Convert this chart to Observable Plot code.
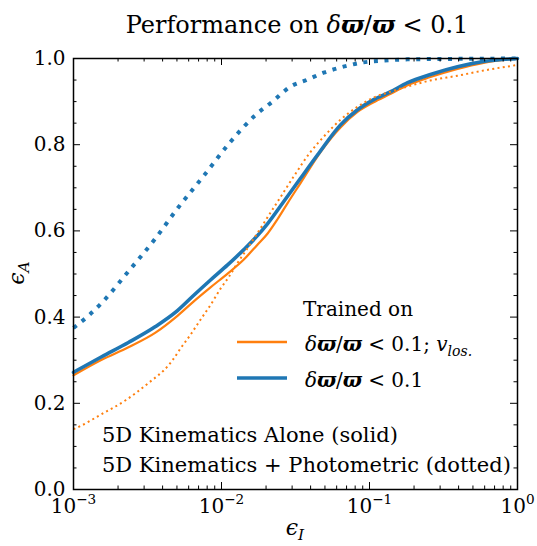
<!DOCTYPE html>
<html><head><meta charset="utf-8">
<script src="https://cdn.jsdelivr.net/npm/d3@7"></script>
<script src="https://cdn.jsdelivr.net/npm/@observablehq/plot@0.6"></script>
<style>
html,body{margin:0;padding:0;background:#fff}
#chart svg, #chart svg text, #chart svg tspan { font-family: "DejaVu Serif", "Times New Roman", "Liberation Serif", Times, serif !important; }
</style>
</head><body><div id="chart"></div>
<script>
// ---- data ----
const blueSolidX = [0.001, 0.00155, 0.00235, 0.00358, 0.00504, 0.00647, 0.00843, 0.011, 0.0141, 0.0175, 0.0205, 0.0262, 0.0342, 0.0445, 0.0637, 0.083, 0.106, 0.139, 0.181, 0.258, 0.393, 0.589, 1];
const blueSolidY = [0.272, 0.308, 0.341, 0.378, 0.415, 0.450, 0.486, 0.521, 0.556, 0.589, 0.617, 0.667, 0.722, 0.776, 0.846, 0.881, 0.904, 0.923, 0.944, 0.963, 0.981, 0.993, 1.0];

const orangeSolidX = [0.001, 0.00155, 0.00235, 0.00358, 0.00504, 0.00647, 0.00843, 0.011, 0.0141, 0.0175, 0.0205, 0.0239, 0.0279, 0.0342, 0.0467, 0.0637, 0.083, 0.106, 0.139, 0.181, 0.258, 0.393, 0.589, 1];
const orangeSolidY = [0.265, 0.301, 0.330, 0.364, 0.403, 0.436, 0.469, 0.501, 0.533, 0.568, 0.594, 0.627, 0.664, 0.711, 0.783, 0.840, 0.876, 0.898, 0.918, 0.938, 0.957, 0.976, 0.990, 1.0];

const orangeDotX = [0.001, 0.00108, 0.00155, 0.00225, 0.00321, 0.00438, 0.00467, 0.00528, 0.00617, 0.00721, 0.00843, 0.00985, 0.0112, 0.0128, 0.015, 0.0175, 0.0205, 0.025, 0.0306, 0.0399, 0.0489, 0.0637, 0.083, 0.106, 0.139, 0.181, 0.258, 0.393, 0.589, 1];
const orangeDotY = [0.140, 0.145, 0.175, 0.207, 0.247, 0.288, 0.300, 0.327, 0.359, 0.394, 0.428, 0.466, 0.493, 0.525, 0.560, 0.595, 0.632, 0.678, 0.725, 0.783, 0.818, 0.858, 0.888, 0.909, 0.923, 0.935, 0.949, 0.960, 0.972, 0.985];

const blueDotX = [0.001, 0.00126, 0.00157, 0.00235, 0.00353, 0.00512, 0.00756, 0.0112, 0.017, 0.0221, 0.0293, 0.0381, 0.0489, 0.0667, 0.0911, 0.124, 0.181, 0.353, 1];
const blueDotY = [0.375, 0.403, 0.435, 0.506, 0.580, 0.655, 0.727, 0.802, 0.869, 0.900, 0.935, 0.951, 0.967, 0.981, 0.991, 0.995, 0.998, 0.999, 1.0];

// ---- tick positions and labels ----
const majorX = [0.001, 0.01, 0.1, 1];
const minorX = [0.002,0.003,0.004,0.005,0.006,0.007,0.008,0.009,
                0.02,0.03,0.04,0.05,0.06,0.07,0.08,0.09,
                0.2,0.3,0.4,0.5,0.6,0.7,0.8,0.9];
const majorY = [0, 0.2, 0.4, 0.6, 0.8, 1.0];
const minorY = [0.05,0.1,0.15,0.25,0.3,0.35,0.45,0.5,0.55,0.65,0.7,0.75,0.85,0.9,0.95];

const titleText = "Performance on ";
const legendTitle = "Trained on";
const noteLines = ["5D Kinematics Alone (solid)", "5D Kinematics + Photometric (dotted)"];

const BLUE = "#1f77b4", ORANGE = "#ff7f0e";
const FONT = "DejaVu Serif, Times New Roman, Liberation Serif, serif";

const W = 537, H = 546, mL = 73, mR = 20, mT = 58, mB = 57;
const iW = W - mL - mR, iH = H - mT - mB;
const MAJ = 7, MIN = 3.5;

const rows = (xs, ys) => xs.map((x, i) => ({x, y: ys[i]}));

const plot = Plot.plot({
  width: W, height: H,
  marginLeft: mL, marginRight: mR, marginTop: mT, marginBottom: mB,
  style: {fontSize: "20px", color: "black", background: "white", overflow: "visible"},
  x: {type: "log", domain: [0.001, 1]},
  y: {domain: [0, 1]},
  marks: [
    Plot.line(rows(orangeSolidX, orangeSolidY), {x: "x", y: "y", stroke: ORANGE, strokeWidth: 2.2, curve: "monotone-x"}),
    Plot.line(rows(blueSolidX, blueSolidY), {x: "x", y: "y", stroke: BLUE, strokeWidth: 3.6, curve: "monotone-x"}),
    Plot.line(rows(orangeDotX, orangeDotY), {x: "x", y: "y", stroke: ORANGE, strokeWidth: 2, strokeDasharray: "2 3.3", strokeLinecap: "butt", curve: "monotone-x"}),
    Plot.line(rows(blueDotX, blueDotY), {x: "x", y: "y", stroke: BLUE, strokeWidth: 4, strokeDasharray: "4 6.6", strokeLinecap: "butt", curve: "monotone-x"}),
    Plot.ruleX(majorX, {x: d => d, insetTop: iH - MAJ, stroke: "black", strokeWidth: 1}),
    Plot.ruleX(minorX, {x: d => d, insetTop: iH - MIN, stroke: "black", strokeWidth: 1}),
    Plot.ruleX(majorX, {x: d => d, insetBottom: iH - MAJ, stroke: "black", strokeWidth: 1}),
    Plot.ruleX(minorX, {x: d => d, insetBottom: iH - MIN, stroke: "black", strokeWidth: 1}),
    Plot.ruleY(majorY, {y: d => d, insetRight: iW - MAJ, stroke: "black", strokeWidth: 1}),
    Plot.ruleY(minorY, {y: d => d, insetRight: iW - MIN, stroke: "black", strokeWidth: 1}),
    Plot.ruleY(majorY, {y: d => d, insetLeft: iW - MAJ, stroke: "black", strokeWidth: 1}),
    Plot.ruleY(minorY, {y: d => d, insetLeft: iW - MIN, stroke: "black", strokeWidth: 1}),
    Plot.axisY(majorY, {anchor: "left", tickSize: 0, tickPadding: 8, tickFormat: d => d.toFixed(1), label: null}),
    Plot.axisX(majorX, {anchor: "bottom", tickSize: 0, tickPadding: 9, tickFormat: d => "10^" + Math.round(Math.log10(d)), label: null}),
    Plot.frame({stroke: "black", strokeWidth: 1.5})
  ]
});

const svg = d3.select(plot);
svg.attr("font-family", FONT);

svg.selectAll('g[aria-label="x-axis tick label"] text').each(function() {
  const m = this.textContent.match(/^10\^(.+)$/);
  if (!m) return;
  const s = d3.select(this);
  s.text(null);
  s.append("tspan").text("10");
  s.append("tspan").attr("dy", -9).attr("font-size", "0.68em").text(m[1].replace("-", "\u2212"));
});
svg.selectAll('g[aria-label="y-axis tick label"] text').style("font-variant", "normal");

function rich(x, y, parts, size, anchor = "start", rotate = 0) {
  const t = svg.append("text")
    .attr("x", x).attr("y", y)
    .attr("font-size", size)
    .attr("text-anchor", anchor)
    .attr("fill", "black");
  if (rotate) t.attr("transform", `rotate(${rotate},${x},${y})`);
  let shifted = 0;
  for (const [str, o = {}] of parts) {
    const ts = t.append("tspan").text(str);
    if (o.italic) ts.attr("font-style", "italic");
    if (o.bold) ts.attr("font-weight", "bold");
    const want = o.sub ? o.sub : 0;
    if (want !== shifted) { ts.attr("dy", want - shifted); shifted = want; }
    if (o.sub) ts.attr("font-size", size * 0.7);
  }
  return t;
}
const mathPi = () => [
  ["δ", {italic: true}], ["ϖ", {italic: true, bold: true}], ["/"], ["ϖ", {italic: true, bold: true}], [" < 0.1"]
];

rich(mL + iW / 2 + 2, 33, [[titleText], ...mathPi()], 24, "middle");
rich(mL + iW / 2, 535, [["ϵ", {italic: true}], ["I", {italic: true, sub: 5}]], 22, "middle");
rich(24, 273, [["ϵ", {italic: true}], ["A", {italic: true, sub: 5}]], 22, "middle", -90);

rich(303, 316, [[legendTitle]], 20);
svg.append("line").attr("x1", 237).attr("x2", 287).attr("y1", 342).attr("y2", 342)
  .attr("stroke", ORANGE).attr("stroke-width", 2.5);
svg.append("line").attr("x1", 237).attr("x2", 287).attr("y1", 378).attr("y2", 378)
  .attr("stroke", BLUE).attr("stroke-width", 3.5);
rich(305, 351, [...mathPi(), ["; "], ["v", {italic: true}], ["los.", {italic: true, sub: 5}]], 20);
rich(305, 387, [...mathPi()], 20);

rich(102, 442, [[noteLines[0]]], 21);
rich(102, 472, [[noteLines[1]]], 21);

document.getElementById("chart").appendChild(plot);
</script>
</body></html>
